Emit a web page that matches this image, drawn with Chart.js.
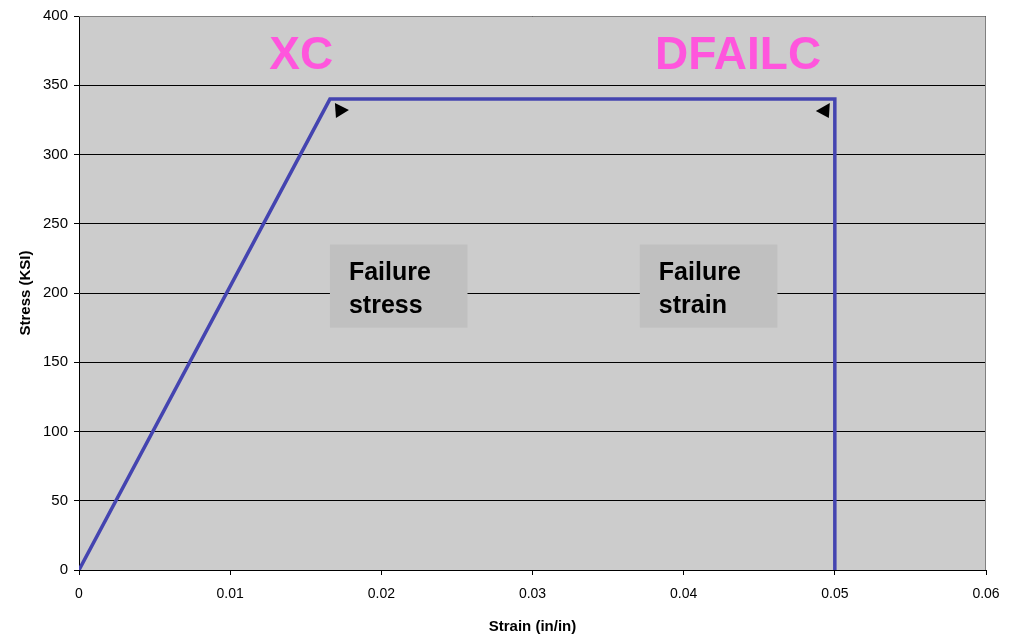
<!DOCTYPE html>
<html>
<head>
<meta charset="utf-8">
<script src="https://cdn.jsdelivr.net/npm/chart.js@4/dist/chart.umd.min.js"></script>
<style>
  html, body { margin: 0; padding: 0; background: #fff; }
  #wrap { width: 1015px; height: 636px; }
</style>
</head>
<body>
<div id="wrap"><canvas id="stressChart"></canvas></div>
<script>
// stress-strain curve points
const strain = [0, 0.0166, 0.05, 0.05]
const stress = [0, 340, 340, 0]

const xTicks = [0, 0.01, 0.02, 0.03, 0.04, 0.05, 0.06]
const yTicks = [0, 50, 100, 150, 200, 250, 300, 350, 400]

// callouts: [x, y, label]
const bigLabels = [
    [0.0147, 371, 'XC'],
    [0.0436, 371, 'DFAILC'],
]
const boxes = [
    [0.0166, 0.0257, 235, 175, ['Failure', 'stress']],
    [0.0371, 0.0462, 235, 175, ['Failure', 'strain']],
]

const pts = strain.map((s, i) => ({ x: s, y: stress[i] }))

const decor = {
    id: 'decor',
    beforeDatasetsDraw(chart) {
        const { ctx, chartArea: a, scales: { x, y } } = chart
        // top/right frame
        ctx.save()
        ctx.strokeStyle = '#808080'
        ctx.lineWidth = 1
        ctx.beginPath()
        ctx.moveTo(a.left, a.top + 0.5)
        ctx.lineTo(a.right - 0.5, a.top + 0.5)
        ctx.lineTo(a.right - 0.5, a.bottom)
        ctx.stroke()
        // text boxes
        ctx.fillStyle = '#C0C0C0'
        boxes.forEach(b => {
            const x0 = x.getPixelForValue(b[0]), x1 = x.getPixelForValue(b[1])
            const y0 = y.getPixelForValue(b[2]), y1 = y.getPixelForValue(b[3])
            ctx.fillRect(x0, y0, x1 - x0, y1 - y0)
        })
        ctx.restore()
    },
    afterDatasetsDraw(chart) {
        const { ctx, scales: { x, y } } = chart
        ctx.save()
        ctx.fillStyle = '#000'
        ctx.font = 'bold 25px "Liberation Sans", Arial, sans-serif'
        ctx.textBaseline = 'middle'
        boxes.forEach(b => {
            const x0 = x.getPixelForValue(b[0])
            const y0 = y.getPixelForValue(b[2])
            ctx.fillText(b[4][0], x0 + 19, y0 + 29)
            ctx.fillText(b[4][1], x0 + 19, y0 + 62)
        })
        ctx.fillStyle = '#FF55DD'
        ctx.font = 'bold 46px "Liberation Sans", Arial, sans-serif'
        ctx.textAlign = 'center'
        bigLabels.forEach(l => {
            ctx.fillText(l[2], x.getPixelForValue(l[0]), y.getPixelForValue(l[1]))
        })
        // arrowheads at the corners
        ctx.fillStyle = '#000'
        const px1 = x.getPixelForValue(strain[1]) + 5, py = y.getPixelForValue(stress[1]) + 4
        ctx.beginPath()
        ctx.moveTo(px1, py); ctx.lineTo(px1 + 14, py + 7); ctx.lineTo(px1 + 1, py + 15); ctx.closePath()
        ctx.fill()
        const px2 = x.getPixelForValue(strain[2]) - 5
        ctx.beginPath()
        ctx.moveTo(px2, py); ctx.lineTo(px2 - 14, py + 8); ctx.lineTo(px2 - 1, py + 15); ctx.closePath()
        ctx.fill()
        ctx.restore()
    }
}

const bgPlugin = {
    id: 'plotBg',
    beforeDraw(chart) {
        const { ctx, chartArea: a } = chart
        ctx.save()
        ctx.fillStyle = '#CCCCCC'
        ctx.fillRect(a.left, a.top, a.right - a.left, a.bottom - a.top)
        ctx.restore()
    }
}

const xTickFont = { family: '"Liberation Sans", Arial, sans-serif', size: 14 }
const yTickFont = { family: '"Liberation Sans", Arial, sans-serif', size: 15 }
const titleFont = { family: '"Liberation Sans", Arial, sans-serif', size: 15, weight: 'bold' }

new Chart(document.getElementById('stressChart'), {
    type: 'scatter',
    data: {
        datasets: [{
            data: pts,
            showLine: true,
            borderColor: '#4444B0',
            borderWidth: 3.5,
            pointRadius: 0,
            fill: false,
            tension: 0,
        }]
    },
    options: {
        responsive: true,
        maintainAspectRatio: false,
        animation: false,
        layout: { padding: { top: 16, right: 29, left: 0, bottom: 0 } },
        plugins: { legend: { display: false }, tooltip: { enabled: false } },
        scales: {
            x: {
                type: 'linear', min: 0, max: 0.06,
                afterBuildTicks: s => { s.ticks = xTicks.map(v => ({ value: v })) },
                afterFit: s => { s.height = 66 },
                ticks: { color: '#000', font: xTickFont, padding: 11, maxRotation: 0,
                    callback: v => String(+v.toFixed(2)) },
                grid: { drawOnChartArea: false, tickLength: 5, color: '#000' },
                border: { color: '#000', width: 1 },
                title: { display: true, text: 'Strain (in/in)', color: '#000', font: titleFont, padding: { top: 6, bottom: 0 } },
            },
            y: {
                type: 'linear', min: 0, max: 400,
                afterBuildTicks: s => { s.ticks = yTicks.map(v => ({ value: v })) },
                afterFit: s => { s.width = 79 },
                ticks: { color: '#000', font: yTickFont, padding: 6 },
                grid: { color: '#000', lineWidth: 1, tickLength: 5 },
                border: { color: '#000', width: 1 },
                title: { display: true, text: 'Stress (KSI)', color: '#000', font: titleFont, padding: { top: 17, bottom: 0 } },
            }
        }
    },
    plugins: [bgPlugin, decor]
})
</script>
</body>
</html>
